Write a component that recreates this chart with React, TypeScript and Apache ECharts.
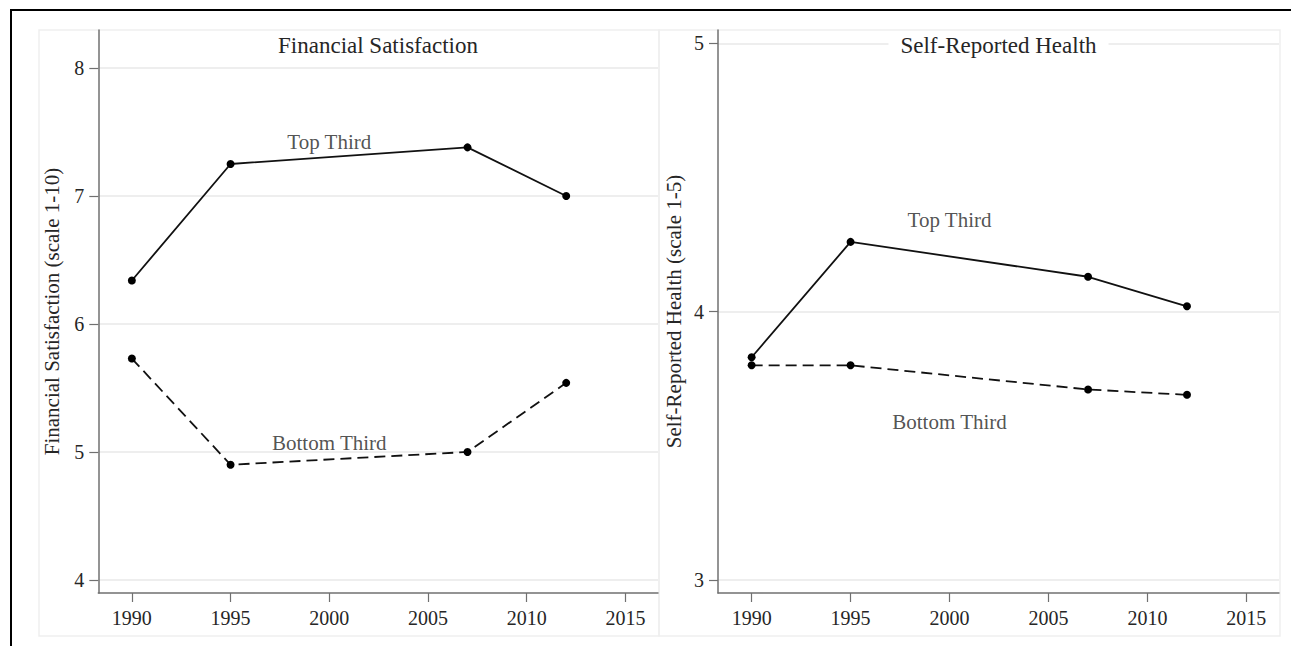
import React, { useEffect, useRef } from "react";
import * as echarts from "echarts";

const years = [1990, 1995, 2007, 2012];
const xTicks = [1990, 1995, 2000, 2005, 2010, 2015];

const finTop = [6.34, 7.25, 7.38, 7.0];
const finBottom = [5.73, 4.9, 5.0, 5.54];
const finTicks = [4, 5, 6, 7, 8];

const healthTop = [3.83, 4.26, 4.13, 4.02];
const healthBottom = [3.8, 3.8, 3.71, 3.69];
const healthTicks = [3, 4, 5];

const finLabels = [
  { name: "Top Third", value: [2000, 7.42] },
  { name: "Bottom Third", value: [2000, 5.07] },
];
const healthLabels = [
  { name: "Top Third", value: [2000, 4.34] },
  { name: "Bottom Third", value: [2000, 3.59] },
];

const FONT = "'Liberation Serif', 'Times New Roman', serif";
const TEXT = "#262626";
const AXIS = "#707070";

export default function App() {
  const ref = useRef<HTMLDivElement>(null);
  useEffect(() => {
    document.body.style.margin = "0";
    const chart = echarts.init(ref.current!, null, { renderer: "svg" });

    const xAxisBase = (gridIndex: number) => ({
      type: "value",
      gridIndex,
      min: 1988.3,
      max: 2016.65,
      axisLine: { show: true, lineStyle: { color: AXIS, width: 1.5 } },
      axisTick: {
        show: true,
        customValues: xTicks,
        length: 9,
        lineStyle: { color: AXIS, width: 1.2 },
      },
      axisLabel: {
        customValues: xTicks,
        formatter: (v: number) => String(v),
        fontFamily: FONT,
        fontSize: 20,
        color: TEXT,
        margin: 15,
      },
      splitLine: { show: false },
    });

    const yAxisBase = (
      gridIndex: number,
      min: number,
      max: number,
      ticks: number[],
      name: string,
      gap: number
    ) => ({
      type: "value",
      gridIndex,
      min,
      max,
      name,
      nameLocation: "middle",
      nameGap: gap,
      nameTextStyle: { fontFamily: FONT, fontSize: 21, color: TEXT },
      axisLine: { show: true, lineStyle: { color: AXIS, width: 1.5 } },
      axisTick: {
        show: true,
        customValues: ticks,
        length: 9,
        lineStyle: { color: AXIS, width: 1.2 },
      },
      axisLabel: {
        customValues: ticks,
        formatter: (v: number) => String(v),
        fontFamily: FONT,
        fontSize: 20,
        color: TEXT,
        margin: 14,
      },
      splitLine: { show: true, lineStyle: { color: "#e9e9e9", width: 1.5 } },
    });

    const lineSeries = (
      idx: number,
      data: number[],
      dashed: boolean,
      name: string
    ) => ({
      type: "line",
      name,
      xAxisIndex: idx,
      yAxisIndex: idx,
      data: years.map((y, i) => [y, data[i]]),
      symbol: "circle",
      symbolSize: 8,
      itemStyle: { color: "#000" },
      lineStyle: {
        color: "#111",
        width: 1.8,
        type: dashed ? [11, 6] : "solid",
      },
      z: 3,
    });

    const labelSeries = (idx: number, data: any[]) => ({
      type: "scatter",
      xAxisIndex: idx,
      yAxisIndex: idx,
      symbolSize: 0,
      data,
      label: {
        show: true,
        position: "inside",
        formatter: "{b}",
        fontFamily: FONT,
        fontSize: 21,
        color: TEXT,
      },
      z: 4,
    });

    chart.setOption({
      animation: false,
      backgroundColor: "#fff",
      grid: [
        { left: 98.3, top: 30, width: 559.7, height: 563 },
        { left: 718, top: 30, width: 561, height: 563 },
      ],
      xAxis: [xAxisBase(0), xAxisBase(1)],
      yAxis: [
        yAxisBase(0, 3.898, 8.297, finTicks, "Financial Satisfaction (scale 1-10)", 36),
        yAxisBase(1, 2.9515, 5.0496, healthTicks, "Self-Reported Health (scale 1-5)", 34),
      ],
      series: [
        lineSeries(0, finTop, false, "Financial Top Third"),
        lineSeries(0, finBottom, true, "Financial Bottom Third"),
        lineSeries(1, healthTop, false, "Health Top Third"),
        lineSeries(1, healthBottom, true, "Health Bottom Third"),
        labelSeries(0, finLabels),
        labelSeries(1, healthLabels),
      ],
      graphic: [
        {
          type: "rect",
          shape: { x: 11, y: 10, width: 1300, height: 660 },
          style: { fill: "none", stroke: "#000", lineWidth: 2 },
          z: 100,
        },
        {
          type: "rect",
          shape: { x: 39, y: 30, width: 620, height: 606 },
          style: { fill: "none", stroke: "#efefef", lineWidth: 1.5 },
          z: -1,
        },
        {
          type: "rect",
          shape: { x: 659, y: 30, width: 621, height: 606 },
          style: { fill: "none", stroke: "#efefef", lineWidth: 1.5 },
          z: -1,
        },
        {
          type: "text",
          x: 378,
          y: 45,
          z: 100,
          style: {
            text: "Financial Satisfaction",
            fontFamily: FONT,
            fontSize: 23,
            fill: TEXT,
            align: "center",
            verticalAlign: "middle",
          },
        },
        {
          type: "text",
          x: 998.5,
          y: 45,
          z: 100,
          style: {
            text: "Self-Reported Health",
            fontFamily: FONT,
            fontSize: 23,
            fill: TEXT,
            align: "center",
            verticalAlign: "middle",
            backgroundColor: "#fff",
            padding: [2, 12],
          },
        },
      ],
    });
    return () => chart.dispose();
  }, []);
  return (
    <div
      ref={ref}
      style={{ position: "fixed", left: 0, top: 0, width: 1291, height: 646 }}
    />
  );
}
